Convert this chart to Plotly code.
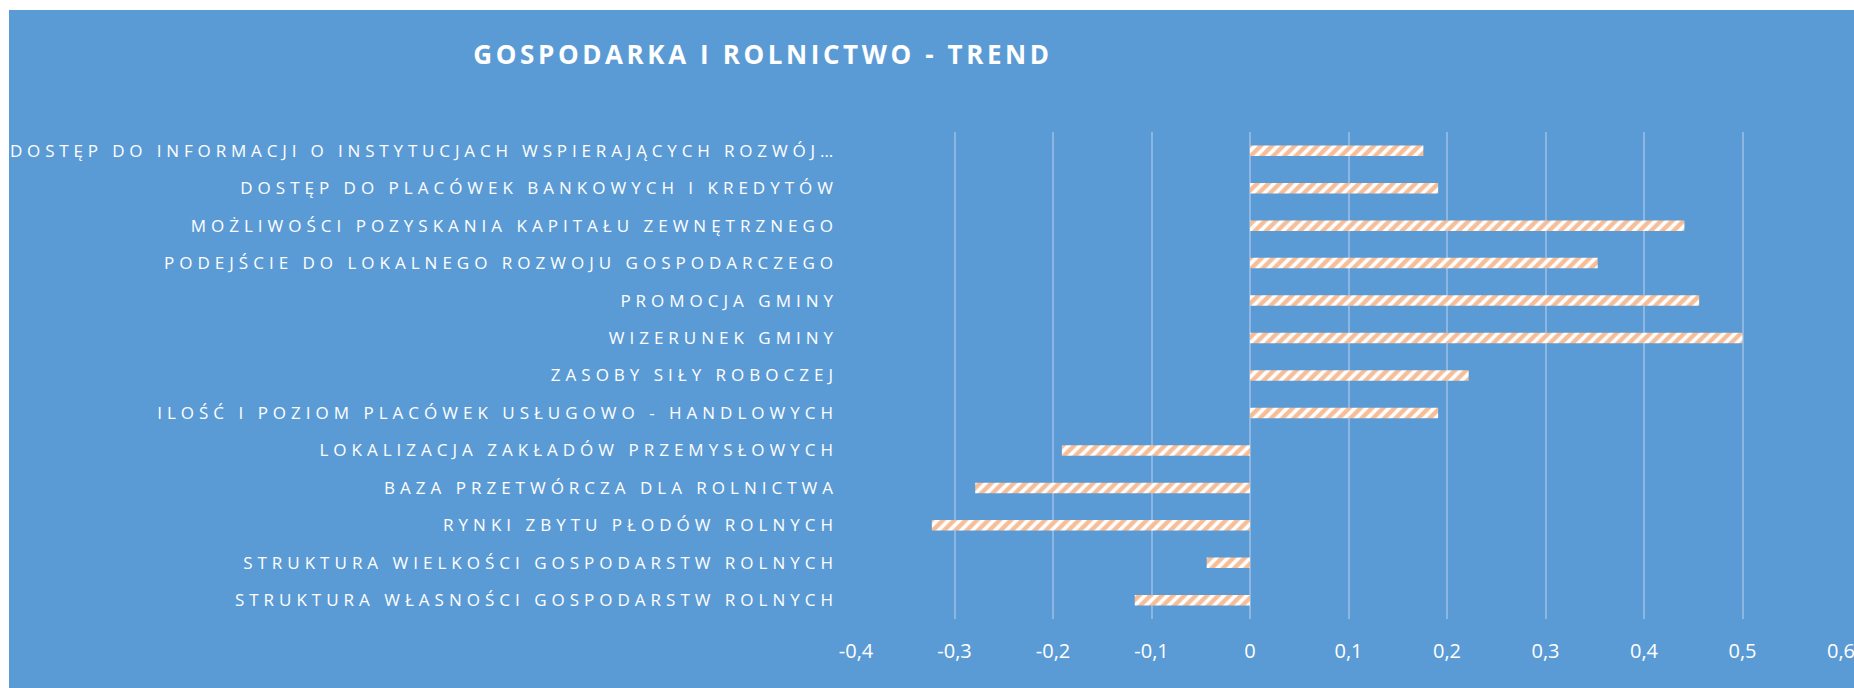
import plotly.graph_objects as go

# Categories, listed top to bottom
categories = [
    "DOSTĘP DO INFORMACJI O INSTYTUCJACH WSPIERAJĄCYCH ROZWÓJ…",
    "DOSTĘP DO PLACÓWEK BANKOWYCH I KREDYTÓW",
    "MOŻLIWOŚCI POZYSKANIA KAPITAŁU ZEWNĘTRZNEGO",
    "PODEJŚCIE DO LOKALNEGO ROZWOJU GOSPODARCZEGO",
    "PROMOCJA GMINY",
    "WIZERUNEK GMINY",
    "ZASOBY SIŁY ROBOCZEJ",
    "ILOŚĆ I POZIOM PLACÓWEK USŁUGOWO - HANDLOWYCH",
    "LOKALIZACJA ZAKŁADÓW PRZEMYSŁOWYCH",
    "BAZA PRZETWÓRCZA DLA ROLNICTWA",
    "RYNKI ZBYTU PŁODÓW ROLNYCH",
    "STRUKTURA WIELKOŚCI GOSPODARSTW ROLNYCH",
    "STRUKTURA WŁASNOŚCI GOSPODARSTW ROLNYCH",
]

trend = [0.176, 0.191, 0.441, 0.353, 0.456, 0.500, 0.222,
         0.191, -0.191, -0.279, -0.323, -0.044, -0.117]

tick_vals = [-0.4, -0.3, -0.2, -0.1, 0, 0.1, 0.2, 0.3, 0.4, 0.5, 0.6]
tick_text = ["-0,4", "-0,3", "-0,2", "-0,1", "0", "0,1", "0,2", "0,3", "0,4", "0,5", "0,6"]

title_text = "GOSPODARKA I ROLNICTWO - TREND"

BLUE = "#5B9BD5"
ORANGE = "#ED7D31"
GRID = "#8DB6E2"
W, H = 1854, 688
M_L, M_R, M_T, M_B = 856, 12, 132, 69

fig = go.Figure()
fig.add_trace(go.Bar(
    x=trend,
    y=categories,
    orientation="h",
    marker=dict(
        color="white",
        line=dict(width=0),
        pattern=dict(shape="/", fgcolor=ORANGE, bgcolor="white",
                     size=8, solidity=0.55, fillmode="overlay"),
    ),
    hoverinfo="x+y",
))

# white strips along the top and left edges of the page
pw = W - M_L - M_R
ph = H - M_T - M_B
def px_x(p):
    return (p - M_L) / pw
def px_y(p):
    return (H - M_B - p) / ph

fig.add_shape(type="rect", xref="paper", yref="paper", layer="below",
              x0=px_x(0), x1=px_x(W), y0=px_y(0), y1=px_y(10),
              fillcolor="white", line=dict(width=0))
fig.add_shape(type="rect", xref="paper", yref="paper", layer="below",
              x0=px_x(0), x1=px_x(9), y0=px_y(0), y1=px_y(H),
              fillcolor="white", line=dict(width=0))

fig.update_layout(
    width=W, height=H,
    margin=dict(l=M_L, r=M_R, t=M_T, b=M_B, pad=0, autoexpand=False),
    paper_bgcolor=BLUE,
    plot_bgcolor=BLUE,
    bargap=0.72,
    showlegend=False,
    font=dict(family="Open Sans", color="white"),
    title=dict(
        text=title_text,
        xref="container", yref="container",
        x=763 / W, xanchor="center",
        y=1 - 55 / H, yanchor="middle",
        font=dict(family="Open Sans", size=26, color="white", weight="bold"),
    ),
    xaxis=dict(
        range=[-0.4, 0.601],
        tickvals=tick_vals,
        ticktext=tick_text,
        showgrid=True, gridcolor=GRID, gridwidth=1.5,
        zeroline=False,
        showline=False,
        ticks="",
        automargin=False,
        ticklabelstandoff=18,
        ticklabeloverflow="allow",
        tickfont=dict(family="Open Sans", size=20, color="white"),
        fixedrange=True,
    ),
    yaxis=dict(
        autorange="reversed",
        showgrid=False, zeroline=False, showline=False,
        ticks="",
        automargin=False,
        ticklabelstandoff=17,
        tickfont=dict(family="Open Sans", size=17, color="white"),
        fixedrange=True,
    ),
)

# spaced-out capitals for the category labels and the title
letter_spacing_js = """
var st = document.createElement('style');
st.textContent = '.ytick text{letter-spacing:5px;} .gtitle{letter-spacing:3.6px;}';
document.head.appendChild(st);
document.querySelectorAll('.ytick text').forEach(function (t) {
    if (t.textContent.length > 50) { t.style.letterSpacing = '4.85px'; }
});
"""

fig.write_html("out.html", post_script=letter_spacing_js)
